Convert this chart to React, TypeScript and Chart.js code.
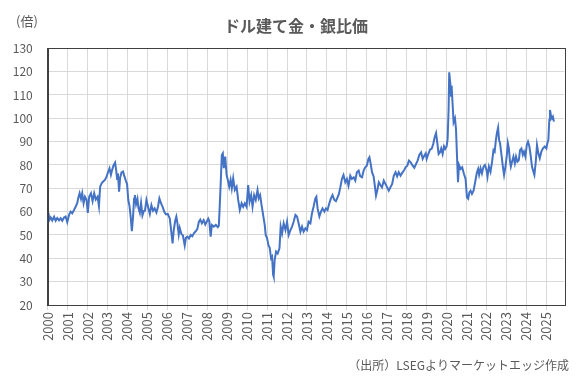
import React, { useEffect, useRef } from "react";
import { Chart, registerables } from "chart.js";

Chart.register(...registerables);

const TITLE = "ドル建て金・銀比価";
const UNIT_LABEL = "(倍)";
const SOURCE_NOTE = "（出所）LSEGよりマーケットエッジ作成";

const yearTicks: number[] = [
  2000, 2001, 2002, 2003, 2004, 2005, 2006, 2007, 2008, 2009, 2010, 2011, 2012,
  2013, 2014, 2015, 2016, 2017, 2018, 2019, 2020, 2021, 2022, 2023, 2024, 2025,
];
const valueTicks: number[] = [20, 30, 40, 50, 60, 70, 80, 90, 100, 110, 120, 130];

// [decimal year, gold/silver ratio]
const ratio2000s: [number, number][] = [
  [2000.0, 55], [2000.04, 59.5], [2000.08, 56.4], [2000.15, 57.5], [2000.23, 56.2], [2000.32, 57.8],
  [2000.4, 56.1], [2000.48, 57.3], [2000.57, 56.3], [2000.65, 57.2], [2000.73, 56.1], [2000.82, 57.5],
  [2000.9, 57.9], [2000.98, 55.5], [2001.07, 58.6], [2001.15, 60], [2001.23, 59.3], [2001.32, 60.7],
  [2001.4, 62.1], [2001.48, 63.6], [2001.53, 65.7], [2001.6, 67.9], [2001.67, 65.5], [2001.73, 67.9],
  [2001.8, 63.6], [2001.87, 66.4], [2001.95, 65], [2002.01, 59.5], [2002.08, 66.4], [2002.17, 67.9],
  [2002.25, 64.5], [2002.33, 67.9], [2002.41, 65.2], [2002.5, 66.4], [2002.57, 62.3], [2002.63, 70.7],
  [2002.7, 72.1], [2002.78, 72.9], [2002.87, 73.6], [2002.95, 75], [2003.03, 77], [2003.1, 78.6],
  [2003.17, 75.8], [2003.23, 77.8], [2003.3, 79.8], [2003.38, 81], [2003.43, 77.9], [2003.48, 74],
  [2003.52, 76.4], [2003.58, 68.6], [2003.63, 74.5], [2003.7, 76.8], [2003.78, 77.2], [2003.85, 75],
  [2003.92, 73.2], [2003.98, 71.8],
];

const ratio2004s: [number, number][] = [
  [2004.04, 65], [2004.1, 62.5], [2004.16, 57.9], [2004.22, 51.6], [2004.28, 58], [2004.33, 65.5],
  [2004.37, 67.1], [2004.43, 63.2], [2004.5, 65.5], [2004.55, 61.5], [2004.62, 59.5], [2004.68, 63.8],
  [2004.75, 58.4], [2004.82, 60.3], [2004.88, 60.5], [2004.95, 65], [2005.03, 62.1], [2005.12, 59],
  [2005.2, 62.8], [2005.28, 60.4], [2005.36, 61.4], [2005.45, 59.6], [2005.53, 62.1], [2005.6, 65.7],
  [2005.68, 63.6], [2005.77, 61.8], [2005.85, 59.8], [2005.93, 58.8], [2006.02, 59], [2006.12, 57.1],
  [2006.19, 52], [2006.26, 46.4], [2006.32, 52.1], [2006.4, 56.4], [2006.45, 57.9], [2006.5, 55.3],
  [2006.57, 50.2], [2006.62, 53], [2006.7, 50.5], [2006.78, 49.8], [2006.87, 45.5], [2006.93, 48.8],
  [2007.0, 49.3], [2007.08, 48.5], [2007.17, 50], [2007.25, 49.5], [2007.33, 50.7], [2007.42, 51.6],
  [2007.5, 52.5], [2007.58, 55.7], [2007.65, 56.6], [2007.73, 55], [2007.82, 56.4], [2007.9, 54.5],
  [2007.97, 55.7],
];

const ratio2008s: [number, number][] = [
  [2008.05, 57], [2008.1, 56], [2008.17, 49.3], [2008.23, 54.3], [2008.33, 53.6], [2008.43, 54.3],
  [2008.53, 53.4], [2008.58, 54], [2008.62, 61.4], [2008.67, 71.4], [2008.73, 84.3], [2008.78, 85],
  [2008.83, 78.6], [2008.9, 83.6], [2008.97, 75.7], [2009.03, 73.6], [2009.1, 70.7], [2009.17, 73.6],
  [2009.23, 70], [2009.3, 74.3], [2009.38, 69.3], [2009.47, 70.7], [2009.55, 65], [2009.63, 60.7],
  [2009.72, 63.6], [2009.8, 62.1], [2009.88, 63.6], [2009.97, 62.1], [2010.05, 71.4], [2010.12, 64.3],
  [2010.2, 67.1], [2010.27, 62.1], [2010.35, 67.1], [2010.43, 65], [2010.52, 69.3], [2010.58, 65.7],
  [2010.65, 67.1], [2010.72, 62.9], [2010.8, 58.6], [2010.88, 54.3], [2010.93, 50], [2011.0, 48.6],
  [2011.07, 45.5], [2011.13, 44.5], [2011.2, 40], [2011.25, 40.7], [2011.3, 33], [2011.33, 32.1],
  [2011.38, 39.3], [2011.45, 42.9], [2011.53, 42.1], [2011.62, 44.3], [2011.68, 53.6], [2011.75, 50.7],
  [2011.83, 55], [2011.92, 52.1],
];

const ratio2012s: [number, number][] = [
  [2012.0, 55.7], [2012.08, 50], [2012.17, 52.1], [2012.25, 53.6], [2012.33, 55.7], [2012.42, 58.6],
  [2012.5, 57.9], [2012.58, 55], [2012.67, 51.4], [2012.75, 53.6], [2012.83, 51.4], [2012.92, 52.9],
  [2013.0, 52.1], [2013.08, 55.7], [2013.17, 55], [2013.25, 59.3], [2013.33, 62.1], [2013.42, 65.7],
  [2013.47, 66.4], [2013.53, 61.4], [2013.62, 57.9], [2013.7, 60], [2013.78, 61.4], [2013.87, 60],
  [2013.95, 61.4], [2014.03, 60.7], [2014.12, 63.6], [2014.2, 65.7], [2014.28, 67.1], [2014.37, 65],
  [2014.45, 64.5], [2014.53, 66.1], [2014.6, 67.6], [2014.67, 70.4], [2014.75, 74], [2014.83, 75.7],
  [2014.92, 72.6], [2015.0, 74], [2015.08, 71.1], [2015.17, 75.4], [2015.25, 74], [2015.34, 74.7],
  [2015.42, 73.3], [2015.5, 76.9], [2015.59, 77.6], [2015.67, 75.1], [2015.76, 74.7], [2015.84, 77.6],
  [2015.92, 79],
];

const ratio2016s: [number, number][] = [
  [2016.0, 79.7], [2016.08, 82.6], [2016.13, 83.3], [2016.18, 81.1], [2016.26, 76.9], [2016.34, 75.1],
  [2016.39, 71.9], [2016.46, 66.9], [2016.53, 69.4], [2016.6, 72.6], [2016.68, 71.4], [2016.76, 70.4],
  [2016.85, 73.3], [2016.93, 71.9], [2017.02, 70.4], [2017.1, 69], [2017.18, 70.4], [2017.27, 71.9],
  [2017.35, 75.4], [2017.44, 76.9], [2017.52, 75.1], [2017.6, 76.9], [2017.69, 75.4], [2017.77, 76.6],
  [2017.86, 77.6], [2017.94, 79], [2018.03, 79.7], [2018.11, 81.9], [2018.2, 81.1], [2018.3, 79.7],
  [2018.38, 78.8], [2018.47, 80.5], [2018.55, 82], [2018.63, 84.3], [2018.72, 85.4], [2018.8, 82.6],
  [2018.88, 84], [2018.95, 85], [2019.0, 82.6], [2019.08, 84.7], [2019.17, 86.6], [2019.25, 86.9],
  [2019.33, 89], [2019.4, 91.9], [2019.47, 93.7], [2019.53, 89.7], [2019.6, 84.7], [2019.67, 85.4],
  [2019.73, 87.1], [2019.8, 84.7], [2019.87, 88], [2019.93, 86.9],
];

const ratio2020s: [number, number][] = [
  [2020.0, 88], [2020.05, 91.1], [2020.1, 104], [2020.13, 119.7], [2020.18, 115.4], [2020.22, 109.7],
  [2020.25, 114], [2020.3, 106.1], [2020.35, 98.3], [2020.42, 100], [2020.47, 95.4], [2020.52, 84],
  [2020.57, 72.6], [2020.62, 80], [2020.7, 78.3], [2020.78, 79], [2020.87, 76.1], [2020.95, 74],
  [2021.02, 66.1], [2021.08, 65.5], [2021.14, 68.3], [2021.2, 69], [2021.27, 67.6], [2021.35, 69],
  [2021.43, 72.6], [2021.52, 76.9], [2021.58, 78.3], [2021.63, 75.8], [2021.7, 78.6], [2021.77, 76.4],
  [2021.85, 79.3], [2021.92, 80], [2022.0, 77.9], [2022.05, 75], [2022.12, 79.3], [2022.2, 77.1],
  [2022.28, 81.4], [2022.35, 86.4], [2022.41, 85.7], [2022.47, 90.7], [2022.52, 93.6], [2022.58, 96],
  [2022.63, 90.7], [2022.68, 89.3], [2022.75, 84.3], [2022.82, 79.3], [2022.88, 75.7], [2022.95, 79.3],
  [2023.02, 84.3], [2023.07, 89.3], [2023.12, 87.1], [2023.17, 82.1], [2023.22, 79.3], [2023.28, 81.4],
  [2023.35, 83.6], [2023.42, 80.7], [2023.48, 83.6], [2023.55, 81.4], [2023.62, 82.1], [2023.68, 86.4],
  [2023.75, 87.1], [2023.82, 84.3], [2023.88, 85.7], [2023.95, 83.6], [2024.02, 88.6], [2024.08, 90],
  [2024.15, 87.9], [2024.22, 83.6], [2024.28, 79.3], [2024.35, 77.1], [2024.4, 75.7], [2024.47, 81.4],
  [2024.53, 88.6], [2024.6, 85], [2024.67, 82.9], [2024.75, 85.7], [2024.83, 87.1], [2024.92, 87.9],
  [2025.0, 87.1], [2025.05, 89.3], [2025.1, 90.7], [2025.15, 99.3], [2025.18, 103.6], [2025.23, 101.4],
  [2025.28, 100], [2025.33, 100.7], [2025.38, 98.6],
];

const TEXT_COLOR = "#595959";
const GRID_COLOR = "#d9d9d9";
const FRAME_COLOR = "#404040";
const LINE_COLOR = "#4472C4";
const JP_FONT = "'Noto Sans CJK JP', 'Noto Sans', sans-serif";

const decorPlugin = {
  id: "decor",
  afterDraw(chart: any) {
    const { ctx, chartArea } = chart;
    ctx.save();
    ctx.strokeStyle = FRAME_COLOR;
    ctx.lineWidth = 1;
    ctx.strokeRect(
      Math.round(chartArea.left) + 0.5,
      Math.round(chartArea.top) + 0.5,
      Math.round(chartArea.right - chartArea.left),
      Math.round(chartArea.bottom - chartArea.top)
    );
    ctx.fillStyle = TEXT_COLOR;
    ctx.textBaseline = "middle";
    ctx.textAlign = "center";
    ctx.font = `bold 16px ${JP_FONT}`;
    ctx.fillText(TITLE, 296, 26);
    ctx.textAlign = "left";
    ctx.font = `13px ${JP_FONT}`;
    ctx.fillText(UNIT_LABEL, 16, 21);
    ctx.textAlign = "right";
    ctx.font = `12px ${JP_FONT}`;
    ctx.fillText(SOURCE_NOTE, 569, 365);
    ctx.restore();
  },
};

export default function App() {
  const canvasRef = useRef<HTMLCanvasElement | null>(null);

  useEffect(() => {
    if (!canvasRef.current) return;
    const points = [
      ...ratio2000s,
      ...ratio2004s,
      ...ratio2008s,
      ...ratio2012s,
      ...ratio2016s,
      ...ratio2020s,
    ].map(([x, y]) => ({ x, y }));

    const chart = new Chart(canvasRef.current, {
      type: "line",
      data: {
        datasets: [
          {
            data: points,
            borderColor: LINE_COLOR,
            borderWidth: 2,
            pointRadius: 0,
            tension: 0,
            fill: false,
          },
        ],
      },
      options: {
        animation: false,
        responsive: false,
        events: [],
        layout: { padding: { left: 0, right: 15.7, top: 48.3, bottom: 0 } },
        plugins: {
          legend: { display: false },
          title: { display: false },
          tooltip: { enabled: false },
        },
        scales: {
          x: {
            type: "linear",
            min: 2000,
            max: 2025.9,
            afterBuildTicks: (scale: any) => {
              scale.ticks = yearTicks.map((v) => ({ value: v }));
            },
            afterFit: (scale: any) => {
              scale.height = 75;
            },
            grid: {
              color: GRID_COLOR,
              lineWidth: 1,
              drawTicks: true,
              tickLength: 5,
              tickColor: GRID_COLOR,
            },
            border: { display: true, color: FRAME_COLOR, width: 1 },
            ticks: {
              autoSkip: false,
              minRotation: 90,
              maxRotation: 90,
              padding: 2,
              color: TEXT_COLOR,
              font: { family: JP_FONT, size: 13 },
              callback: (v: any) => String(v),
            },
          },
          y: {
            type: "linear",
            min: 20,
            max: 130,
            afterBuildTicks: (scale: any) => {
              scale.ticks = valueTicks.map((v) => ({ value: v }));
            },
            afterFit: (scale: any) => {
              scale.width = 47.7;
            },
            grid: { color: GRID_COLOR, lineWidth: 1, drawTicks: false },
            border: { display: true, color: FRAME_COLOR, width: 1 },
            ticks: {
              padding: 15,
              color: TEXT_COLOR,
              font: { family: JP_FONT, size: 12 },
            },
          },
        },
      },
      plugins: [decorPlugin],
    } as any);

    return () => chart.destroy();
  }, []);

  return (
    <div style={{ position: "fixed", left: 0, top: 0, width: 580, height: 380, background: "#fff" }}>
      <canvas ref={canvasRef} width={580} height={380} style={{ display: "block", width: 580, height: 380 }} />
    </div>
  );
}
